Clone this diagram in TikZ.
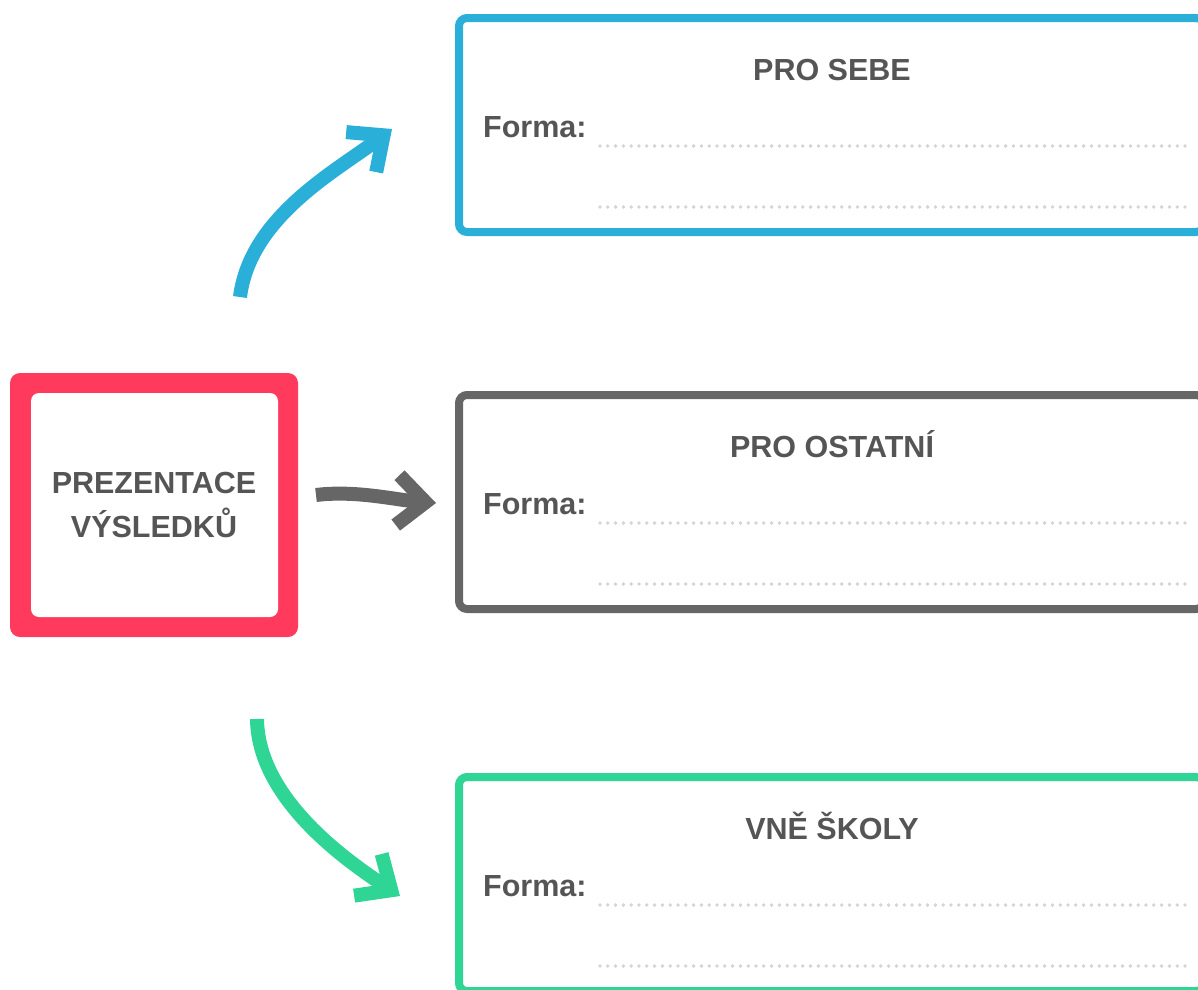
\documentclass[tikz,border=0pt]{standalone}
\usepackage{fontspec}
\setmainfont{Liberation Sans}
\usetikzlibrary{arrows.meta, calc}
\definecolor{presRed}{HTML}{FF3A5C}
\definecolor{presBlue}{HTML}{2AAFD9}
\definecolor{presGray}{HTML}{666666}
\definecolor{presGreen}{HTML}{2FD595}
\definecolor{presText}{HTML}{555555}
\definecolor{presDots}{HTML}{D4D4D4}
\tikzset{
    pres_main/.style={
        rectangle,
        fill=presRed,
        rounded corners=10pt,
        inner sep=0pt,
        minimum width=288pt,
        minimum height=264pt,
        text=presText,
        font=\fontsize{30.5}{43.5}\selectfont\bfseries,
        align=center,
        path picture={
            \fill[white, rounded corners=8pt]
              ([shift={(21pt,-20pt)}]path picture bounding box.north west) rectangle
              ([shift={(-20pt,20pt)}]path picture bounding box.south east);
        }
    },
    pres_box/.style={
        rectangle,
        draw=#1,
        line width=8pt,
        rounded corners=8pt,
        inner sep=0pt,
        minimum width=745pt,
        minimum height=214pt
    },
    pres_title/.style={
        anchor=base,
        inner sep=0pt,
        text=presText,
        font=\fontsize{30.5}{36}\selectfont\bfseries
    },
    pres_label/.style={
        anchor=base west,
        inner sep=0pt,
        text=presText,
        font=\fontsize{30.5}{36}\selectfont\bfseries
    },
    pres_dots/.style={
        presDots,
        line width=3.8pt,
        line cap=round,
        dash pattern=on 0pt off 7.8pt
    },
    pres_arrow/.style={
        draw=#1,
        line width=14pt,
        -{Straight Barb[length=28pt, width=50pt]}
    }
}
% box with title, label and two dotted rows: name, colour, top edge, title
\newcommand{\presbox}[4]{
    \node[pres_box=#2] (#1) at (831.5, #3+111) {};
    \node[pres_title] (#1Title) at (832, #3+66) {#4};
    \node[pres_label] (#1Form) at (483, #3+123) {Forma:};
    \draw[pres_dots] (600, #3+132) -- (1188, #3+132);
    \draw[pres_dots] (600, #3+193) -- (1188, #3+193);
}

\begin{document}
\begin{tikzpicture}[x=1pt, y=-1pt]
\useasboundingbox (0,0) rectangle (1198,989);

\node[pres_main] (prez) at (154,505) {PREZENTACE\\VÝSLEDKŮ};

\presbox{sebe}{presBlue}{14}{PRO SEBE}
\presbox{ostatni}{presGray}{391}{PRO OSTATNÍ}
\presbox{skoly}{presGreen}{773}{VNĚ ŠKOLY}

\coordinate (sebeFrom) at (240,297);
\coordinate (sebeTo) at (392,129);
\coordinate (ostatniFrom) at (316,495);
\coordinate (ostatniTo) at (436,503);
\coordinate (skolyFrom) at (257,719);
\coordinate (skolyTo) at (400,896);

\draw[pres_arrow=presBlue] (sebeFrom) .. controls +(10,-80) and +(-56,42) .. (sebeTo);
\draw[pres_arrow=presGray] (ostatniFrom) .. controls +(40,-5) and +(-40,-3) .. (ostatniTo);
\draw[pres_arrow=presGreen] (skolyFrom) .. controls +(1,80) and +(-53,-35) .. (skolyTo);

\end{tikzpicture}
\end{document}
